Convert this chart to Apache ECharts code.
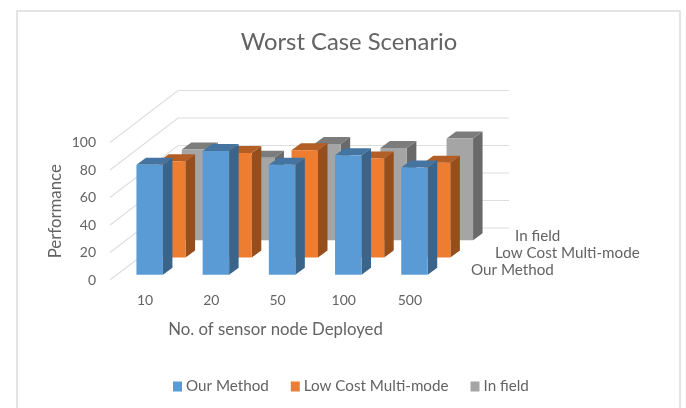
<!DOCTYPE html>
<html>
<head>
<meta charset="utf-8">
<title>Worst Case Scenario</title>
<script src="https://cdn.jsdelivr.net/npm/echarts@6/dist/echarts.min.js"></script>
<style>
html,body{margin:0;padding:0;background:#fff;overflow:hidden}
#chart{width:686px;height:408px}
</style>
</head>
<body>
<div id="chart"></div>
<script>
var categories = ['10', '20', '50', '100', '500'];
var ticks = [0, 20, 40, 60, 80, 100];
var seriesNames = ['Our Method', 'Low Cost Multi-mode', 'In field'];
var ourMethod = [80, 90, 80, 87, 78];
var lowCost = [70, 76, 78, 72, 69];
var inField = [66, 60, 70, 67, 74];

var fontName = 'Lato';
var textColor = '#636363';
// front, top, side
var shades = [
	['#5b9bd5', '#44749f', '#3a6489'],
	['#ed7d31', '#b25e25', '#964e1c'],
	['#a5a5a5', '#7c7c7c', '#696969']
];
// oblique projection of the chart box
var depthX = 68, depthY = 52;
var rowX = depthX / 3, rowY = depthY / 3;
var barDepthX = 9.5, barDepthY = 7;
var barRatio = 0.4;
// left edge of the depth axis labels, from the front right corner
var depthLabelShift = [30, 54, 74];

function barItem(row) {
	return function (params, api) {
		var idx = api.value(0);
		var base = api.coord([idx, 0]);
		var top = api.coord([idx, api.value(1)]);
		var w = api.size([1, 0])[0] * barRatio;
		var dx = rowX * row + (rowX - barDepthX) / 2;
		var dy = rowY * row + (rowY - barDepthY) / 2;
		var x0 = base[0] - w / 2 + dx, x1 = x0 + w;
		var y0 = base[1] - dy, y1 = top[1] - dy;
		var ox = barDepthX, oy = barDepthY;
		return {
			type: 'group',
			children: [
				{ type: 'polygon', shape: { points: [[x1, y0], [x1 + ox, y0 - oy], [x1 + ox, y1 - oy], [x1, y1]] }, style: { fill: shades[row][2] } },
				{ type: 'polygon', shape: { points: [[x0, y1], [x1, y1], [x1 + ox, y1 - oy], [x0 + ox, y1 - oy]] }, style: { fill: shades[row][1] } },
				{ type: 'rect', shape: { x: x0, y: y1, width: w, height: y0 - y1 }, style: { fill: shades[row][0] } }
			]
		};
	};
}

function wallItem(params, api) {
	var p = api.coord([0, api.value(0)]);
	var band = api.size([1, 0])[0];
	var left = p[0] - band / 2;
	return {
		type: 'polyline',
		shape: { points: [[left, p[1]], [left + depthX, p[1] - depthY], [left + band * categories.length + depthX, p[1] - depthY]] },
		style: { fill: 'none', stroke: '#dedede', lineWidth: 1.2 }
	};
}

function depthLabelItem(params, api) {
	var row = params.dataIndex;
	var p = api.coord([categories.length - 1, 0]);
	var band = api.size([1, 0])[0];
	return {
		type: 'text',
		style: {
			text: seriesNames[row],
			x: p[0] + band / 2 + depthLabelShift[row],
			y: p[1] - 9.5 - rowY * row,
			fill: textColor,
			font: '15.2px ' + fontName,
			textAlign: 'left',
			textVerticalAlign: 'middle'
		}
	};
}

function barSeries(row, values) {
	return {
		name: seriesNames[row],
		type: 'custom',
		z: 5 - row,
		silent: true,
		itemStyle: { color: shades[row][0] },
		encode: { x: 0, y: 1 },
		renderItem: barItem(row),
		data: values.map(function (v, i) { return [categories[i], v]; })
	};
}

var chart = echarts.init(document.getElementById('chart'));
var option = {
	animation: false,
	textStyle: { fontFamily: fontName, color: textColor },
	title: {
		text: 'Worst Case Scenario',
		left: 344,
		top: 25,
		textAlign: 'center',
		textStyle: { fontFamily: fontName, fontWeight: 'normal', fontSize: 23.8, color: textColor }
	},
	legend: {
		data: seriesNames,
		left: 173,
		top: 379,
		padding: 0,
		icon: 'rect',
		itemWidth: 9,
		itemHeight: 10,
		itemGap: 22,
		selectedMode: false,
		textStyle: { fontFamily: fontName, fontSize: 15.2, color: textColor, padding: [0, 0, 0, -1] }
	},
	grid: { left: 110, width: 331, top: 142.5, height: 137.5 },
	xAxis: {
		type: 'category',
		data: categories,
		name: 'No. of sensor node Deployed',
		nameLocation: 'middle',
		nameGap: 41,
		nameTextStyle: { fontFamily: fontName, fontSize: 16.8, color: textColor },
		axisLine: { show: false },
		axisTick: { show: false },
		axisLabel: { fontFamily: fontName, fontSize: 14, color: textColor, margin: 13, padding: [0, 0, 0, 4] }
	},
	yAxis: {
		type: 'value',
		min: 0,
		max: 100,
		interval: 20,
		name: 'Performance',
		nameLocation: 'middle',
		nameGap: 46,
		nameTextStyle: { fontFamily: fontName, fontSize: 16.8, color: textColor },
		axisLine: { show: false },
		axisTick: { show: false },
		splitLine: { show: false },
		axisLabel: { fontFamily: fontName, fontSize: 14, color: textColor, margin: 14 }
	},
	graphic: [{
		type: 'rect',
		silent: true,
		shape: { x: 17, y: 11, width: 663, height: 420 },
		style: { fill: 'none', stroke: '#dcdcdc', lineWidth: 1.5 }
	}],
	series: [
		barSeries(0, ourMethod),
		barSeries(1, lowCost),
		barSeries(2, inField),
		{
			type: 'custom',
			name: 'walls',
			z: 1,
			silent: true,
			encode: { y: 0 },
			renderItem: wallItem,
			data: ticks.map(function (t) { return [t]; })
		},
		{
			type: 'custom',
			name: 'depth labels',
			z: 6,
			silent: true,
			renderItem: depthLabelItem,
			data: seriesNames.map(function (n) { return [n]; })
		}
	]
};
chart.setOption(option);
</script>
</body>
</html>
